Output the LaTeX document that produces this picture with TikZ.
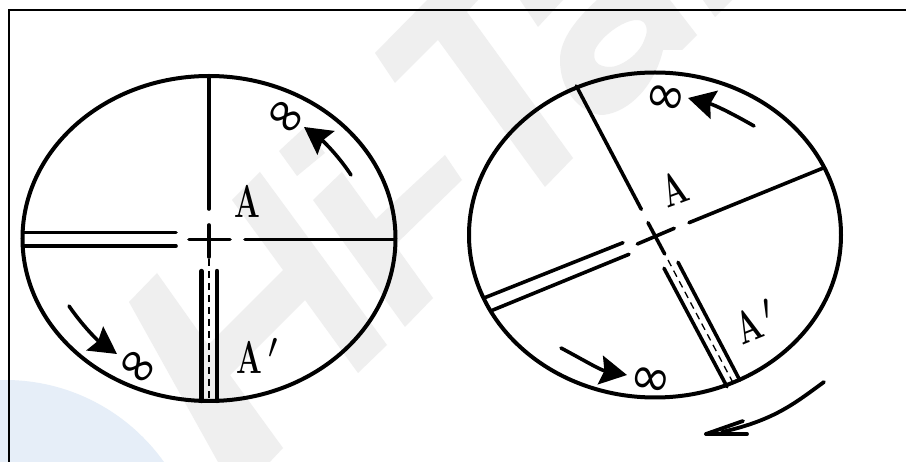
\documentclass[tikz,border=0pt]{standalone}
\usepackage{graphicx}
\usepackage{fontspec}
\newfontfamily\inffont{DejaVu Sans}
\usetikzlibrary{arrows.meta}
\definecolor{wmgrey}{HTML}{EFEFEF}
\definecolor{wmblue}{HTML}{E6EEF8}
\tikzset{
  wm/.style={fill=wmgrey,draw=none},
  rim/.style={draw=black,line width=4pt},
  hair/.style={draw=black,line width=3.6pt,line cap=round},
  thickhair/.style={draw=black,line width=4.4pt,line cap=round},
  dashline/.style={draw=black,line width=1.3pt,dash pattern=on 7pt off 5pt},
  turn/.style={draw=black,line width=3.6pt,line cap=round,-{Stealth[length=27pt,width=29pt,inset=4pt,line cap=butt]}},
  big/.style={draw=black,line width=3.8pt,line cap=round},
  lab/.style={inner sep=0pt,font=\fontsize{46}{46}\selectfont},
  inf/.style={inner sep=0pt,font=\inffont\fontsize{50}{50}\selectfont},
}
\newcommand{\narrowA}{\scalebox{.66}[1]{\bfseries A}}
\newcommand{\narrowAp}{\scalebox{.66}[1]{\bfseries A}\hspace{6pt}\raisebox{15pt}{\scalebox{1.35}[1.45]{$\prime$}}}
\newcommand{\tallinf}{\scalebox{1}[1.08]{∞}}
\begin{document}
\begin{tikzpicture}[x=1pt,y=-1pt]
\useasboundingbox (0,0) rectangle (906,462);
\clip (0,0) rectangle (906,462);
\fill[white] (0,0) rectangle (906,462);
% watermark
\fill[wmblue] (5,575) circle[radius=195pt];
\fill[wm] (129,302)--(157,273)--(208,345)--(283,270)--(232,200)--(260,172)--(387,345)--(358,373)--(305,300)--(230,375)--(283,448)--(253,480)--(228,480)--cycle;
\fill[wm] (313,200)--(342,172)--(376,219)--(445,155)--(462,180)--(395,245)--(433,298)--(405,327)--cycle;
\fill[wm] (279,151)--(297,176)--(325,153)--(305,127)--cycle;
\fill[wm] (375,53)--(395,83)--(438,40)--(545,187)--(573,158)--(467,12)--(478,0)--(427,0)--cycle;
\fill[wm] (520,0)--(538,27)--(563,0)--cycle;
\fill[wm] (703,0)--(715,17)--(732,0)--cycle;
\fill[wm,even odd rule] (597,0) .. controls (575,20) and (560,40) .. (560,60) .. controls (560,95) and (585,115) .. (603,115) .. controls (630,112) and (655,85) .. (663,50) -- (682,50) -- (697,35) -- (670,0) -- cycle
  (595,50) .. controls (600,38) and (622,20) .. (637,20) .. controls (648,20) and (648,32) .. (645,38) .. controls (640,55) and (620,67) .. (610,67) .. controls (597,67) and (592,60) .. (595,50) -- cycle;
% frame
\coordinate (fa) at (9,470);
\coordinate (fb) at (9,10);
\coordinate (fc) at (914,10);
\draw[black,line width=2.4pt] (fa)--(fb)--(fc);
% left reticle
\draw[rim] (209,238.5) ellipse[x radius=186.5,y radius=162.5];
\coordinate (l1) at (209,76); \coordinate (l2) at (209,209);
\coordinate (l3) at (209,225); \coordinate (l4) at (209,257);
\coordinate (l5) at (189,239.5); \coordinate (l6) at (230,239.5);
\coordinate (l7) at (245,239.5); \coordinate (l8) at (395,239.5);
\coordinate (l9) at (24,232.5); \coordinate (l10) at (176,232.5);
\coordinate (l11) at (24,246); \coordinate (l12) at (176,246);
\coordinate (l13) at (201.5,271); \coordinate (l14) at (201.5,401);
\coordinate (l15) at (217,271); \coordinate (l16) at (217,401);
\coordinate (l17) at (209,259); \coordinate (l18) at (209,401);
\draw[hair] (l1)--(l2);
\draw[hair] (l3)--(l4);
\draw[hair] (l5)--(l6);
\draw[hair] (l7)--(l8);
\draw[hair] (l9)--(l10);
\draw[hair] (l11)--(l12);
\draw[thickhair] (l13)--(l14);
\draw[thickhair] (l15)--(l16);
\draw[dashline] (l17)--(l18);
\node[lab] (la) at (247,201) {\narrowA};
\node[lab,anchor=west] (lap) at (236,356) {\narrowAp};
\node[inf,rotate=-38] (li1) at (284,119) {\tallinf};
\node[inf,rotate=-38] (li2) at (136,369) {\tallinf};
\coordinate (t1) at (351,175); \coordinate (t2) at (304,127);
\coordinate (t3) at (69,306); \coordinate (t4) at (117,354);
\draw[turn] (t1) .. controls (338,155) and (322,140) .. (t2);
\draw[turn] (t3) .. controls (82,325) and (97,340) .. (t4);
% right reticle
\draw[rim] (655,235) ellipse[x radius=186,y radius=162.5];
\coordinate (r1) at (576.3,86); \coordinate (r2) at (641.3,209.3);
\coordinate (r3) at (648,222.7); \coordinate (r4) at (664.7,254);
\coordinate (r5) at (637.3,244); \coordinate (r6) at (674.3,228.3);
\coordinate (r7) at (689,222.7); \coordinate (r8) at (824,167.7);
\coordinate (r9) at (623,242.7); \coordinate (r10) at (484.7,297.7);
\coordinate (r11) at (629,254.3); \coordinate (r12) at (491.3,310.7);
\coordinate (r13) at (664,268.3); \coordinate (r14) at (727,386.7);
\coordinate (r15) at (678,262.3); \coordinate (r16) at (739.7,380);
\coordinate (r17) at (668,260); \coordinate (r18) at (733,382.7);
\draw[hair] (r1)--(r2);
\draw[hair] (r3)--(r4);
\draw[hair] (r5)--(r6);
\draw[hair] (r7)--(r8);
\draw[hair] (r9)--(r10);
\draw[hair] (r11)--(r12);
\draw[hair] (r13)--(r14);
\draw[hair] (r15)--(r16);
\draw[dashline] (r17)--(r18);
\node[lab,rotate=20] (ra) at (674,189) {\narrowA};
\node[lab,rotate=22] (rap) at (755,322) {\narrowAp};
\node[inf,rotate=-10] (ri1) at (665,100) {\tallinf};
\node[inf,rotate=-10] (ri2) at (650,382) {\tallinf};
\coordinate (t5) at (754,126); \coordinate (t6) at (688,98);
\coordinate (t7) at (561,348); \coordinate (t8) at (627,375);
\draw[turn] (t5) .. controls (735,115) and (715,105) .. (t6);
\draw[turn] (t7) .. controls (580,358) and (600,370) .. (t8);
% rotation arrow
\coordinate (b1) at (824,382); \coordinate (b2) at (706,434);
\coordinate (b3) at (743,421); \coordinate (b4) at (747,434);
\coordinate (b5) at (722,432);
\draw[big] (b1) .. controls (795,403) and (775,420) .. (b5);
\draw[big] (b2)--(b3);
\draw[big] (b2)--(b4);
\end{tikzpicture}
\end{document}
